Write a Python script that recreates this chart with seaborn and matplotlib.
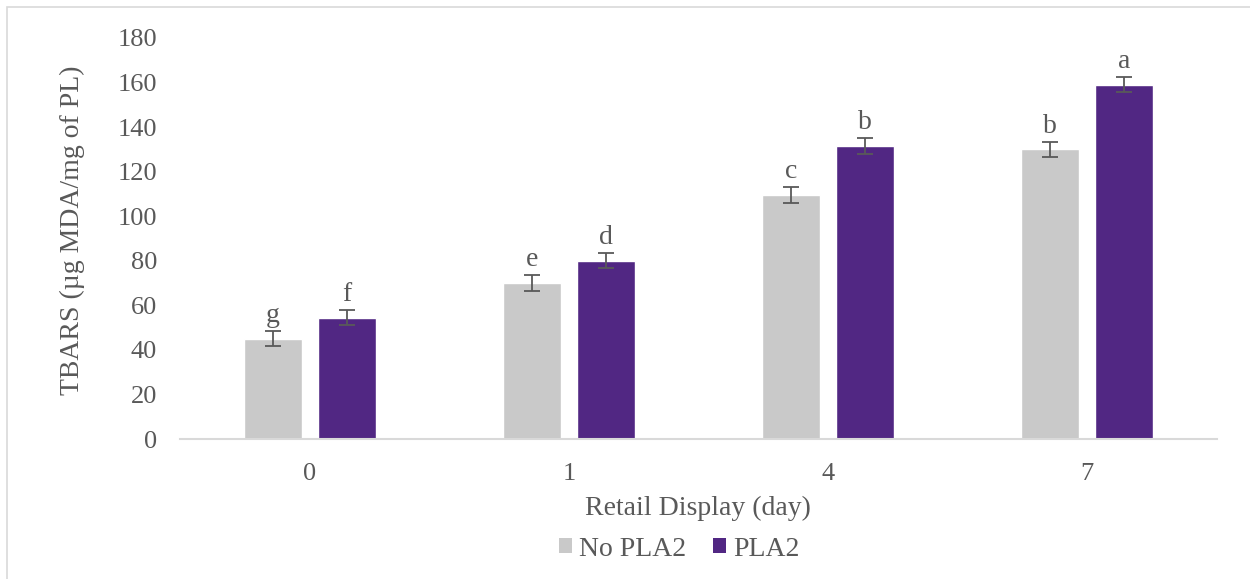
import matplotlib
matplotlib.use("Agg")
import matplotlib.pyplot as plt
from matplotlib.patches import Patch, Rectangle
import seaborn as sns
import pandas as pd

# TBARS values by retail display day and treatment
days = ["0", "1", "4", "7"]
treatments = ["No PLA2", "PLA2"]
no_pla2 = [45.0, 70.0, 109.5, 130.0]
pla2 = [54.5, 80.0, 131.5, 159.0]
no_pla2_err = [3.4, 3.4, 3.4, 3.4]
pla2_err = [3.4, 3.4, 3.4, 3.4]
no_pla2_letters = ["g", "e", "c", "b"]
pla2_letters = ["f", "d", "b", "a"]
y_ticks = [0, 20, 40, 60, 80, 100, 120, 140, 160, 180]

colors = {"No PLA2": "#c9c9c9", "PLA2": "#512783"}
text_grey = "#595959"

df = pd.DataFrame({
    "day": days * 2,
    "treatment": [treatments[0]] * 4 + [treatments[1]] * 4,
    "value": no_pla2 + pla2,
})
errs = {"No PLA2": no_pla2_err, "PLA2": pla2_err}
letters = {"No PLA2": no_pla2_letters, "PLA2": pla2_letters}

sns.set_theme(style="white")
plt.rcParams["font.family"] = ["Liberation Serif", "DejaVu Serif"]

fig = plt.figure(figsize=(12.5, 5.79), dpi=100)
ax = fig.add_axes([180 / 1250, 1 - 439 / 579, (1217 - 180) / 1250, (439 - 38) / 579])

sns.barplot(data=df, x="day", y="value", hue="treatment", order=days,
            hue_order=treatments, palette=colors, width=0.571, gap=0.216,
            errorbar=None, saturation=1, legend=False, ax=ax)

for cont, name in zip(ax.containers, treatments):
    xs = [b.get_x() + b.get_width() / 2 for b in cont]
    hs = [b.get_height() for b in cont]
    ax.errorbar(xs, hs, yerr=errs[name], fmt="none", ecolor=text_grey,
                elinewidth=1.3, capsize=5.5, capthick=1.3, zorder=3)
    for x, h, e, lab in zip(xs, hs, errs[name], letters[name]):
        ax.annotate(lab, (x, h + e), xytext=(0, 6.5), textcoords="offset points",
                    ha="center", va="baseline", fontsize=20, color=text_grey)

ax.set_xlim(-0.5, 3.5)
ax.set_ylim(0, 180)
ax.set_yticks(y_ticks)
ax.tick_params(axis="both", length=0, labelsize=19, colors=text_grey)
ax.tick_params(axis="y", pad=16.5)
ax.tick_params(axis="x", pad=17)
for s in ["top", "right", "left"]:
    ax.spines[s].set_visible(False)
ax.spines["bottom"].set_color("#d9d9d9")
ax.spines["bottom"].set_linewidth(1.5)
ax.set_xlabel("")
ax.set_ylabel("")

fig.text(72 / 1250, 1 - 230 / 579, "TBARS (µg MDA/mg of PL)", rotation=90,
         ha="center", va="center", fontsize=20, color=text_grey)
fig.text(698 / 1250, 1 - 508 / 579, "Retail Display (day)",
         ha="center", va="center", fontsize=20, color=text_grey)

handles = [Patch(facecolor=colors[t], edgecolor="none", label=t) for t in treatments]
leg = fig.legend(handles=handles, loc="center", bbox_to_anchor=(679 / 1250, 1 - 549 / 579),
                 ncol=2, frameon=False, fontsize=20, handlelength=0.48, handleheight=0.48,
                 handletextpad=0.25, columnspacing=0.95, borderaxespad=0)
for t in leg.get_texts():
    t.set_color(text_grey)

# chart-area border along top and left edges
fig.patches.append(Rectangle((7 / 1250, -0.1), 1.2, 1 - 7 / 579 + 0.1,
                             transform=fig.transFigure, fill=False,
                             edgecolor="#d9d9d9", linewidth=1.2))

fig.savefig("out.png", dpi=100)
